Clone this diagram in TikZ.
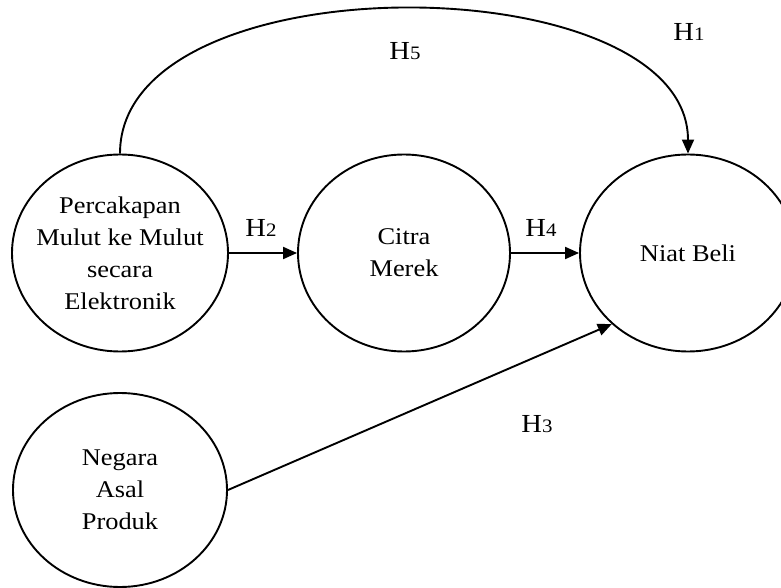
\documentclass[tikz,border=0pt]{standalone}
\usepackage{fontspec}
\setmainfont{Liberation Serif}[FakeStretch=1.1]
\usetikzlibrary{shapes.geometric,arrows.meta}
\newcommand\hnum[1]{{\fontsize{19}{19}\selectfont #1}}
\begin{document}
\begin{tikzpicture}[x=1pt,y=1pt,
  var/.style={draw,ellipse,line width=1.9pt,minimum width=216pt,minimum height=197pt,inner sep=-20pt,align=center,font=\fontsize{24}{32}\selectfont},
  hyp/.style={font=\fontsize{26}{30}\selectfont,inner sep=0pt},
  conn/.style={line width=1.9pt,-{Triangle[length=14pt,width=12pt]}}]
\clip (0,0) rectangle (781,587);
\node[var] (perc) at (120,334) {Percakapan\\Mulut ke Mulut\\secara\\Elektronik};
\node[var,minimum width=212pt] (citra) at (404,334) {Citra\\Merek};
\node[var] (niat) at (688,334) {Niat Beli};
\node[var,minimum width=214pt,minimum height=194pt] (neg) at (120,97) {Negara\\Asal\\Produk};
\draw[conn] (perc.east) -- (citra.west);
\draw[conn] (citra.east) -- (niat.west);
\draw[conn] (neg.east) -- (niat.223);
\draw[conn] (perc.north) .. controls +(0,195) and +(0,190) .. (niat.north);
\node[hyp] (h1) at (689,555) {H\hnum{1}};
\node[hyp] (h5) at (405,536) {H\hnum{5}};
\node[hyp] (h2) at (261,359) {H\hnum{2}};
\node[hyp] (h4) at (541,359) {H\hnum{4}};
\node[hyp] (h3) at (537,163) {H\hnum{3}};
\end{tikzpicture}
\end{document}
